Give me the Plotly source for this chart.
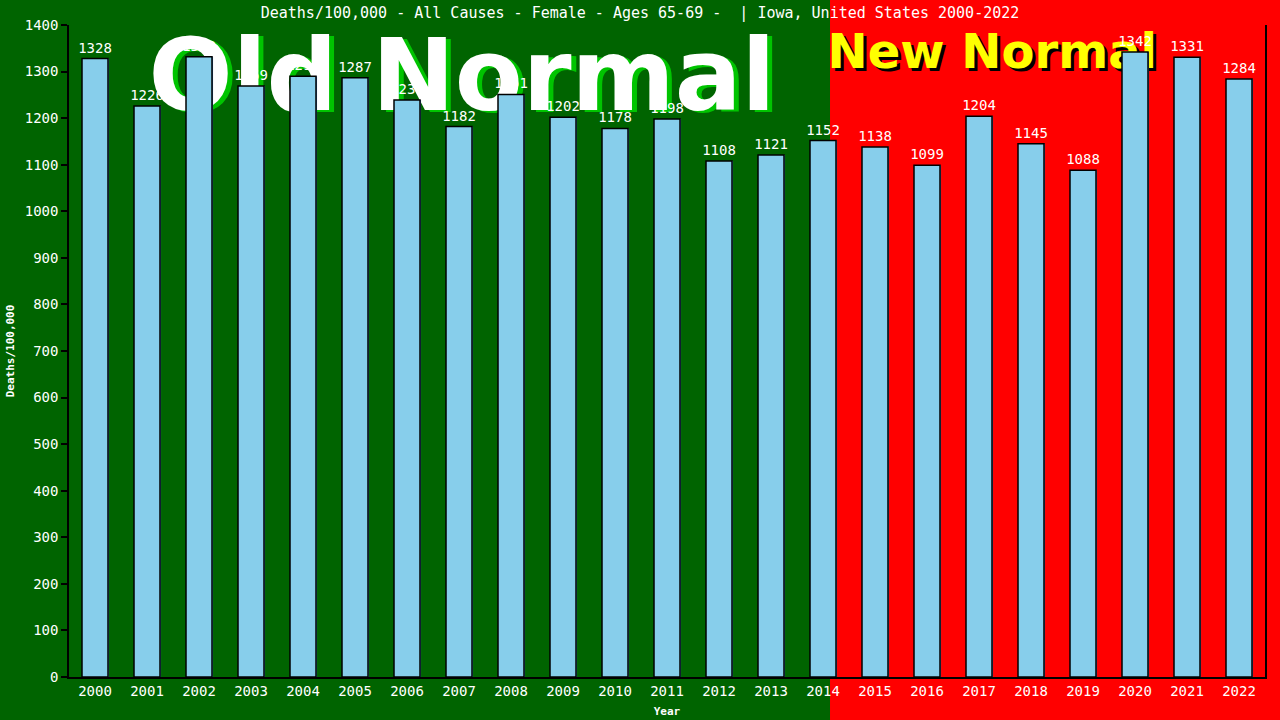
import plotly.graph_objects as go

years = list(range(2000, 2023))
values = [1328, 1226, 1332, 1269, 1290, 1287, 1239, 1182, 1251, 1202, 1178, 1198,
          1108, 1121, 1152, 1138, 1099, 1204, 1145, 1088, 1342, 1331, 1284]
y_ticks = list(range(0, 1401, 100))

title_text = "Deaths/100,000 - All Causes - Female - Ages 65-69 -  | Iowa, United States 2000-2022"
mono = "DejaVu Sans Mono"

fig = go.Figure()

# shadow bars (blue edge to the right)
fig.add_trace(go.Bar(
    x=years, y=values, width=0.5, offset=-0.23,
    marker=dict(color="#3f7fbf", line=dict(width=0)),
    hoverinfo="skip", showlegend=False,
))
# main bars
fig.add_trace(go.Bar(
    x=years, y=values, width=0.5, offset=-0.25,
    marker=dict(color="#87CEEB", line=dict(color="black", width=1.5)),
    text=[str(v) for v in values], textposition="outside", constraintext="none",
    textfont=dict(color="white", size=14, family=mono),
    cliponaxis=False, showlegend=False,
))

shapes = [
    # red "new normal" background
    dict(type="rect", xref="paper", yref="paper", x0=0.6363, x1=1.02, y0=-0.07, y1=1.04,
         fillcolor="#ff0000", line=dict(width=0), layer="below"),
]

def label_shape(cx, cy, text, size, color, dx=0, dy=0):
    px = 1 / 1196
    py = 1 / 652
    return dict(type="rect", xref="paper", yref="paper",
                x0=cx - 0.3 + dx * px, x1=cx + 0.3 + dx * px,
                y0=cy - 0.05 - dy * py, y1=cy + 0.05 - dy * py,
                line=dict(width=0), fillcolor="rgba(0,0,0,0)", layer="below",
                label=dict(text=text, textposition="middle center",
                           font=dict(family="DejaVu Sans", size=size, color=color, weight="bold")))

shapes.append(label_shape(0.3286, 0.933, "Old Normal", 99, "#00c400", dx=5, dy=2))
shapes.append(label_shape(0.3286, 0.933, "Old Normal", 99, "white"))
shapes.append(label_shape(0.772, 0.964, "New Normal", 48, "black", dx=3, dy=3))
shapes.append(label_shape(0.772, 0.964, "New Normal", 48, "#ffff00"))

fig.update_layout(
    width=1280, height=720,
    paper_bgcolor="#006400", plot_bgcolor="rgba(0,0,0,0)",
    margin=dict(l=69, r=15, t=25, b=43),
    barmode="overlay",
    shapes=shapes,
    title=dict(text=title_text, x=0.5, xanchor="center", y=0.982, yanchor="middle",
               font=dict(family=mono, size=15, color="white")),
    xaxis=dict(range=[1999.5, 2022.5], tickvals=years, ticktext=[str(y) for y in years],
               showgrid=False, zeroline=False, showline=True, linecolor="black", linewidth=1.5,
               ticks="", tickfont=dict(family=mono, size=14, color="white"), automargin=False,
               title=dict(text="Year", font=dict(family=mono, size=11, color="white", weight="bold"),
                          standoff=10)),
    yaxis=dict(range=[0, 1400], tickvals=y_ticks, showgrid=False, zeroline=False,
               showline=True, linecolor="black", linewidth=1.5, mirror=True, automargin=False,
               ticks="outside", ticklen=6, tickcolor="black", tickwidth=1.5,
               tickfont=dict(family=mono, size=14, color="white"),
               title=dict(text="Deaths/100,000", font=dict(family=mono, size=11, color="white", weight="bold"),
                          standoff=8)),
)

fig.write_html("out.html", config={"displayModeBar": False},
               post_script="document.body.style.margin='0';document.body.style.overflow='hidden';")
